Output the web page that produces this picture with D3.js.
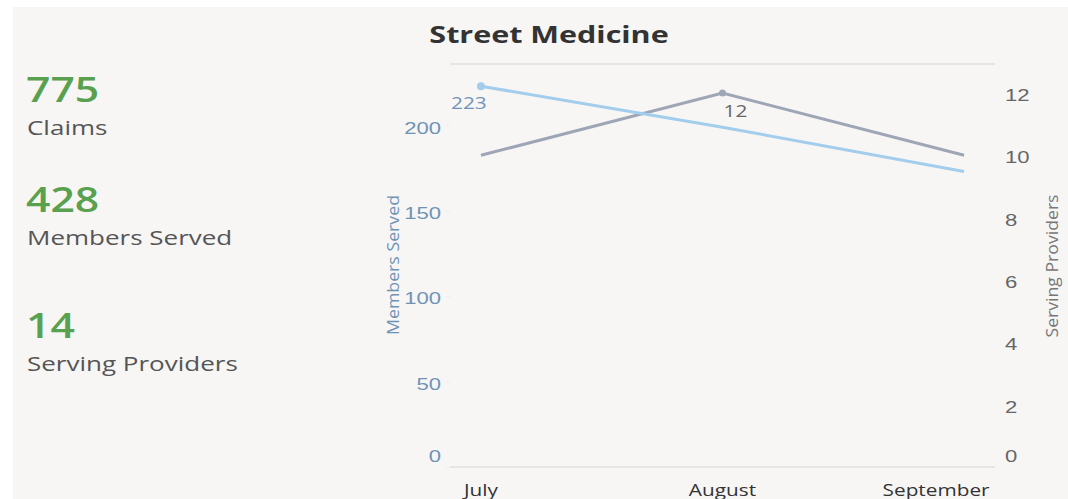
<!DOCTYPE html>
<html>
<head>
<meta charset="utf-8">
<script src="https://cdn.jsdelivr.net/npm/d3@7"></script>
<style>
  body { margin: 0; background: #fff; }
  svg { display: block; font-family: 'Open Sans', sans-serif; }
</style>
</head>
<body>
<div class="chart"></div>
<script>
'use strict'
var months = ['July', 'August', 'September']
var membersServed = [223, 199, 173]
var servingProviders = [10, 12, 10]
var memberTicks = [0, 50, 100, 150, 200]
var providerTicks = [0, 2, 4, 6, 8, 10, 12]
var kpiValues = ['775', '428', '14']
var kpiLabels = ['Claims', 'Members Served', 'Serving Providers']

var width = 1068
var height = 499
var K = 1.3 // the dashboard text is rendered wide, so stretch glyphs horizontally

var stretch = function (sel, k) {
  sel.each(function () {
    var t = d3.select(this)
    var tx = +t.attr('x') || 0
    var ty = +t.attr('y') || 0
    t.attr('x', 0).attr('y', 0)
      .attr('transform', 'translate(' + tx + ',' + ty + ') scale(' + k + ',1)')
  })
}

var svg = d3.select('.chart').append('svg')
  .attr('width', width)
  .attr('height', height)

// panel background
svg.append('rect')
  .attr('x', 13).attr('y', 7)
  .attr('width', width - 13).attr('height', height - 7)
  .attr('fill', '#f7f6f5')

// KPI tiles on the left
var kpiY = [102, 212, 338]
kpiValues.forEach(function (v, i) {
  svg.append('text')
    .attr('x', 26).attr('y', kpiY[i])
    .attr('fill', '#59a14f')
    .style('font-size', '35px')
    .style('font-weight', 600)
    .text(v)
    .call(stretch, 1.22)
  svg.append('text')
    .attr('x', 27).attr('y', kpiY[i] + 33)
    .attr('fill', '#555')
    .style('font-size', '20px')
    .text(kpiLabels[i])
    .call(stretch, K)
})

// title
svg.append('text')
  .attr('x', 549).attr('y', 43)
  .attr('text-anchor', 'middle')
  .attr('fill', '#333')
  .style('font-size', '24px')
  .style('font-weight', 'bold')
  .text('Street Medicine')
  .call(stretch, 1.27)

var plotLeft = 450
var plotRight = 995
var plotTop = 64
var plotBottom = 467

var x = d3.scalePoint().domain(months).range([plotLeft, plotRight]).padding(0.128)
var yMembers = d3.scaleLinear().domain([0, 236]).range([plotBottom, plotTop])
var yProviders = d3.scaleLinear().domain([0, 12.93]).range([plotBottom, plotTop])

// frame lines
svg.append('line')
  .attr('x1', plotLeft).attr('x2', plotRight).attr('y1', plotTop).attr('y2', plotTop)
  .attr('stroke', '#d4d4d4')
svg.append('line')
  .attr('x1', plotLeft).attr('x2', plotRight).attr('y1', plotBottom).attr('y2', plotBottom)
  .attr('stroke', '#d4d4d4')

// left axis
var leftAxis = svg.append('g')
  .attr('transform', 'translate(' + plotLeft + ',0)')
  .call(d3.axisLeft(yMembers).tickValues(memberTicks).tickSize(4).tickPadding(5))
leftAxis.select('.domain').remove()
leftAxis.selectAll('.tick line').attr('stroke', '#eeeeee')
leftAxis.selectAll('.tick text')
  .attr('fill', '#6f93b5')
  .style('font-size', '17px')
  .attr('dy', function (d) { return d === 0 ? '-0.3em' : '0.45em' })
  .call(stretch, K)

// right axis
var rightAxis = svg.append('g')
  .attr('transform', 'translate(' + plotRight + ',0)')
  .call(d3.axisRight(yProviders).tickValues(providerTicks).tickSize(0).tickPadding(10))
rightAxis.select('.domain').remove()
rightAxis.selectAll('.tick text')
  .attr('fill', '#666')
  .style('font-size', '17px')
  .attr('dy', function (d) { return d === 0 ? '-0.3em' : '0.45em' })
  .call(stretch, K)

// axis titles
svg.append('text')
  .attr('transform', 'translate(399,265) rotate(-90)')
  .attr('text-anchor', 'middle')
  .attr('fill', '#6f93b5')
  .attr('textLength', 140)
  .attr('lengthAdjust', 'spacingAndGlyphs')
  .style('font-size', '17px')
  .text('Members Served')
svg.append('text')
  .attr('transform', 'translate(1058,266) rotate(-90)')
  .attr('text-anchor', 'middle')
  .attr('fill', '#777')
  .attr('textLength', 143)
  .attr('lengthAdjust', 'spacingAndGlyphs')
  .style('font-size', '17px')
  .text('Serving Providers')

// month labels
var monthShift = { July: 0, August: 0, September: -28 }
svg.append('g').selectAll('text')
  .data(months)
  .enter().append('text')
  .attr('x', function (d) { return x(d) + monthShift[d] })
  .attr('y', 496)
  .attr('text-anchor', 'middle')
  .attr('fill', '#333')
  .style('font-size', '16px')
  .text(function (d) { return d })
  .call(stretch, K)

// lines
var membersLine = d3.line()
  .x(function (d, i) { return x(months[i]) })
  .y(function (d) { return yMembers(d) })
var providersLine = d3.line()
  .x(function (d, i) { return x(months[i]) })
  .y(function (d) { return yProviders(d) })

svg.append('path')
  .datum(servingProviders)
  .attr('d', providersLine)
  .attr('fill', 'none')
  .attr('stroke', '#9ea6b5')
  .attr('stroke-width', 3)
svg.append('path')
  .datum(membersServed)
  .attr('d', membersLine)
  .attr('fill', 'none')
  .attr('stroke', '#a3cdec')
  .attr('stroke-width', 3)

// highlighted max points with labels
var maxM = d3.maxIndex(membersServed)
svg.append('circle')
  .attr('cx', x(months[maxM])).attr('cy', yMembers(membersServed[maxM]))
  .attr('r', 4).attr('fill', '#a3cdec')
svg.append('text')
  .attr('x', x(months[maxM]) - 12).attr('y', yMembers(membersServed[maxM]) + 23)
  .attr('text-anchor', 'middle')
  .attr('fill', '#6f93b5')
  .style('font-size', '16px')
  .text(membersServed[maxM])
  .call(stretch, K)

var maxP = d3.maxIndex(servingProviders)
svg.append('circle')
  .attr('cx', x(months[maxP])).attr('cy', yProviders(servingProviders[maxP]))
  .attr('r', 3.5).attr('fill', '#9ea6b5')
svg.append('text')
  .attr('x', x(months[maxP]) + 13).attr('y', yProviders(servingProviders[maxP]) + 24)
  .attr('text-anchor', 'middle')
  .attr('fill', '#666')
  .style('font-size', '16px')
  .text(servingProviders[maxP])
  .call(stretch, K)
</script>
</body>
</html>
